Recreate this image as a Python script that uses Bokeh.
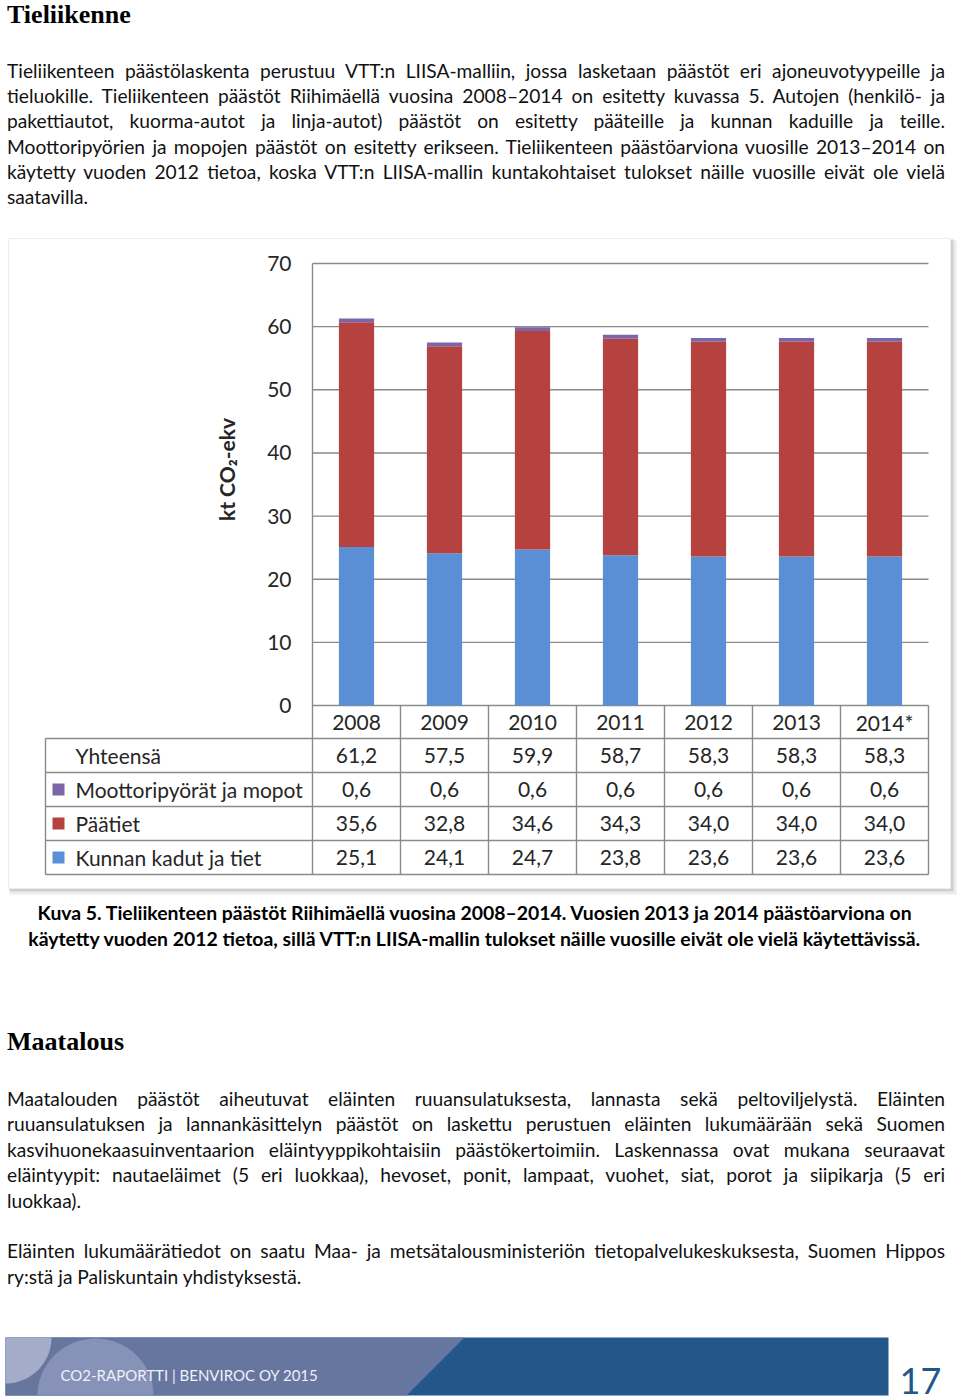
import numpy as np
from math import pi
from bokeh.plotting import figure
from bokeh.models import Range1d, Div, ColumnDataSource
from bokeh.layouts import column
from bokeh.core.properties import value
from bokeh.embed import file_html
from bokeh.resources import INLINE

# ---------------- data ----------------
years = ["2008", "2009", "2010", "2011", "2012", "2013", "2014*"]
kunnan = [25.1, 24.1, 24.7, 23.8, 23.6, 23.6, 23.6]        # Kunnan kadut ja tiet
paatiet = [35.6, 32.8, 34.6, 34.3, 34.0, 34.0, 34.0]       # Päätiet
moottori = [0.6, 0.6, 0.6, 0.6, 0.6, 0.6, 0.6]             # Moottoripyörät ja mopot
yhteensa = [61.2, 57.5, 59.9, 58.7, 58.3, 58.3, 58.3]      # Yhteensä
y_ticks = [0, 10, 20, 30, 40, 50, 60, 70]
row_names = ["Yhteensä", "Moottoripyörät ja mopot", "Päätiet", "Kunnan kadut ja tiet"]

C_BLUE, C_RED, C_PURPLE = "#5A8FD5", "#B5423F", "#7D66A8"
FONT = "Lato"
TXT = "#262626"
LINE = "#8a8a8a"
CFS = "21px"   # chart font size

def fmt(v):
    return f"{v:.1f}".replace(".", ",")

# ---------------- page text ----------------
W = 960
p1_lines = [
    "Tieliikenteen päästölaskenta perustuu VTT:n LIISA-malliin, jossa lasketaan päästöt eri ajoneuvotyypeille ja",
    "tieluokille. Tieliikenteen päästöt Riihimäellä vuosina 2008–2014 on esitetty kuvassa 5. Autojen (henkilö- ja",
    "pakettiautot, kuorma-autot ja linja-autot) päästöt on esitetty pääteille ja kunnan kaduille ja teille.",
    "Moottoripyörien ja mopojen päästöt on esitetty erikseen. Tieliikenteen päästöarviona vuosille 2013–2014 on",
    "käytetty vuoden 2012 tietoa, koska VTT:n LIISA-mallin kuntakohtaiset tulokset näille vuosille eivät ole vielä",
    "saatavilla.",
]
p1_centers = [70, 95, 120.5, 146, 171, 196.5]
p1_last = [5]

m_lines = [
    "Maatalouden päästöt aiheutuvat eläinten ruuansulatuksesta, lannasta sekä peltoviljelystä. Eläinten",
    "ruuansulatuksen ja lannankäsittelyn päästöt on laskettu perustuen eläinten lukumäärään sekä Suomen",
    "kasvihuonekaasuinventaarion eläintyyppikohtaisiin päästökertoimiin. Laskennassa ovat mukana seuraavat",
    "eläintyypit: nautaeläimet (5 eri luokkaa), hevoset, ponit, lampaat, vuohet, siat, porot ja siipikarja (5 eri",
    "luokkaa).",
    "Eläinten lukumäärätiedot on saatu Maa- ja metsätalousministeriön tietopalvelukeskuksesta, Suomen Hippos",
    "ry:stä ja Paliskuntain yhdistyksestä.",
]
m_centers = [1098, 1123.5, 1149, 1174.5, 1200, 1250, 1276]
m_last = [4, 6]

caption = [
    "Kuva 5. Tieliikenteen päästöt Riihimäellä vuosina 2008–2014. Vuosien 2013 ja 2014 päästöarviona on",
    "käytetty vuoden 2012 tietoa, sillä VTT:n LIISA-mallin tulokset näille vuosille eivät ole vielä käytettävissä.",
]


def lines_html(lines, centers, last, offset):
    out = []
    for i, (t, c) in enumerate(zip(lines, centers)):
        is_last = i in last
        al = "left" if is_last else "justify"
        ws = "0px" if is_last else "-1.5px"
        top = c - offset - 12.5
        out.append(
            f'<div style="position:absolute;left:7px;width:938px;top:{top}px;height:25px;'
            f'line-height:25px;font-family:Lato;font-size:19.2px;word-spacing:{ws};color:#111;'
            f'text-align:{al};text-align-last:{al};">{t}</div>'
        )
    return "".join(out)


def heading_html(t, baseline_rel):
    top = baseline_rel - 23.5
    return (f'<div style="position:absolute;left:7px;top:{top}px;font-family:\'Liberation Serif\';'
            f'font-weight:bold;font-size:26px;line-height:29px;color:#000;white-space:nowrap">{t}</div>')


H1 = 230
div1 = Div(
    text=f'<div style="position:relative;width:{W}px;height:{H1}px">'
         + heading_html("Tieliikenne", 23.5) + lines_html(p1_lines, p1_centers, p1_last, 0) + '</div>',
    width=W, height=H1, margin=0)

H3 = 360
div2 = Div(
    text=f'<div style="position:relative;width:{W}px;height:{H3}px">'
         + heading_html("Maatalous", 1050 - 960) + lines_html(m_lines, m_centers, m_last, 960) + '</div>',
    width=W, height=H3, margin=0)

# ---------------- chart figure ----------------
FIG_TOP, FIG_BOT = 230, 960
X0, CW = 312, 88.0        # page x of plot-area left edge, px per category
Y0, KPX = 705, 6.314      # page y of value 0, px per kt

def U(px):
    return (px - X0) / CW

def V(py):
    return (Y0 - py) / KPX

p = figure(width=W, height=FIG_BOT - FIG_TOP,
           x_range=Range1d(U(0), U(W)), y_range=Range1d(V(FIG_BOT), V(FIG_TOP)),
           x_axis_type=None, y_axis_type=None, toolbar_location=None,
           output_backend="svg", min_border=0, outline_line_color=None)
p.background_fill_color = "white"

# chart box with soft shadow
p.quad(left=[U(9)], right=[U(956)], top=[V(240)], bottom=[V(894)], fill_color="#ececec", line_color=None)
p.quad(left=[U(9)], right=[U(953)], top=[V(239)], bottom=[V(891)], fill_color="#cfcfcf", line_color=None)
p.quad(left=[U(8)], right=[U(950)], top=[V(238)], bottom=[V(888)], fill_color="white", line_color="#ededed")

n = len(years)
xc = [i + 0.5 for i in range(n)]

# gridlines
p.segment(x0=[0] * len(y_ticks), x1=[n] * len(y_ticks), y0=y_ticks, y1=y_ticks,
          line_color=LINE, line_width=1.4)

src = ColumnDataSource(dict(x=xc, kunnan=kunnan, paatiet=paatiet, moottori=moottori))
p.vbar_stack(["kunnan", "paatiet", "moottori"], x="x", width=0.40, source=src,
             color=[C_BLUE, C_RED, C_PURPLE], line_color=None)

# axis line (continues into table)
p.segment(x0=[0], x1=[0], y0=[y_ticks[-1]], y1=[V(874)], line_color=LINE, line_width=1.4)

# y tick labels
p.text(x=[U(291)] * len(y_ticks), y=y_ticks, text=[str(t) for t in y_ticks],
       text_align="right", text_baseline="middle", text_font=value(FONT),
       text_font_size=CFS, text_color=TXT)

# axis title
p.text(x=[U(226)], y=[V(469)], text=["kt CO₂-ekv"], angle=pi / 2,
       text_align="center", text_baseline="middle", text_font=value(FONT),
       text_font_size=CFS, text_font_style="bold", text_color=TXT)

# ---- data table ----
row_lines_px = [738, 772, 806, 840, 874]
row_centers_px = [755, 789, 823, 857]
p.segment(x0=[U(45)] * len(row_lines_px), x1=[n] * len(row_lines_px),
          y0=[V(r) for r in row_lines_px], y1=[V(r) for r in row_lines_px],
          line_color=LINE, line_width=1.4)
p.segment(x0=list(range(1, n + 1)), x1=list(range(1, n + 1)),
          y0=[0] * n, y1=[V(874)] * n, line_color=LINE, line_width=1.4)
p.segment(x0=[U(45)], x1=[U(45)], y0=[V(738)], y1=[V(874)], line_color=LINE, line_width=1.4)

# year header
p.text(x=xc, y=[V(721.5)] * n, text=years, text_align="center", text_baseline="middle",
       text_font=value(FONT), text_font_size=CFS, text_color=TXT)

rows = [yhteensa, moottori, paatiet, kunnan]
marker_colors = [None, C_PURPLE, C_RED, C_BLUE]
for name, vals, col, cy in zip(row_names, rows, marker_colors, row_centers_px):
    p.text(x=[U(75)], y=[V(cy)], text=[name], text_align="left", text_baseline="middle",
           text_font=value(FONT), text_font_size=CFS, text_color=TXT)
    if col:
        p.scatter(x=[U(58)], y=[V(cy)], marker="square", size=12, fill_color=col, line_color=None)
    p.text(x=xc, y=[V(cy)] * n, text=[fmt(v) for v in vals], text_align="center",
           text_baseline="middle", text_font=value(FONT), text_font_size=CFS, text_color=TXT)

# caption
p.text(x=[U(475)] * 2, y=[V(912), V(938)], text=caption, text_align="center",
       text_baseline="middle", text_font=value(FONT), text_font_size="19.4px",
       text_font_style="bold", text_color="#000")

# ---------------- footer ----------------
f = figure(width=W, height=80, x_range=Range1d(0, W), y_range=Range1d(1400, 1320),
           x_axis_type=None, y_axis_type=None, toolbar_location=None,
           output_backend="svg", min_border=0, outline_line_color=None)
f.quad(left=[5], right=[888], top=[1337], bottom=[1395], fill_color="#23578a", line_color=None)
f.patch(x=[5, 464, 406, 5], y=[1337, 1337, 1395, 1395], fill_color="#67769f", line_color=None)
t = np.linspace(0, pi, 40)
f.patch(x=list(95 + 58 * np.cos(t)), y=list(1395 - 57 * np.sin(t)), fill_color="#8692b7", line_color=None)
t2 = np.linspace(0, pi / 2, 30)
f.patch(x=[5] + list(5 + 46 * np.cos(t2)), y=[1337] + list(1337 + 46 * np.sin(t2)),
        fill_color="#a3adc9", line_color=None)
f.text(x=[60], y=[1374], text=["CO2-RAPORTTI | BENVIROC OY 2015"], text_baseline="middle",
       text_font=value(FONT), text_font_size="15px", text_color="#eef1f7")
f.text(x=[920], y=[1380], text=["17"], text_align="center", text_baseline="middle",
       text_font=value(FONT), text_font_size="36px", text_color="#23578a")

layout = column(div1, p, div2, f, spacing=0)
open("out.html", "w").write(file_html(layout, INLINE))
